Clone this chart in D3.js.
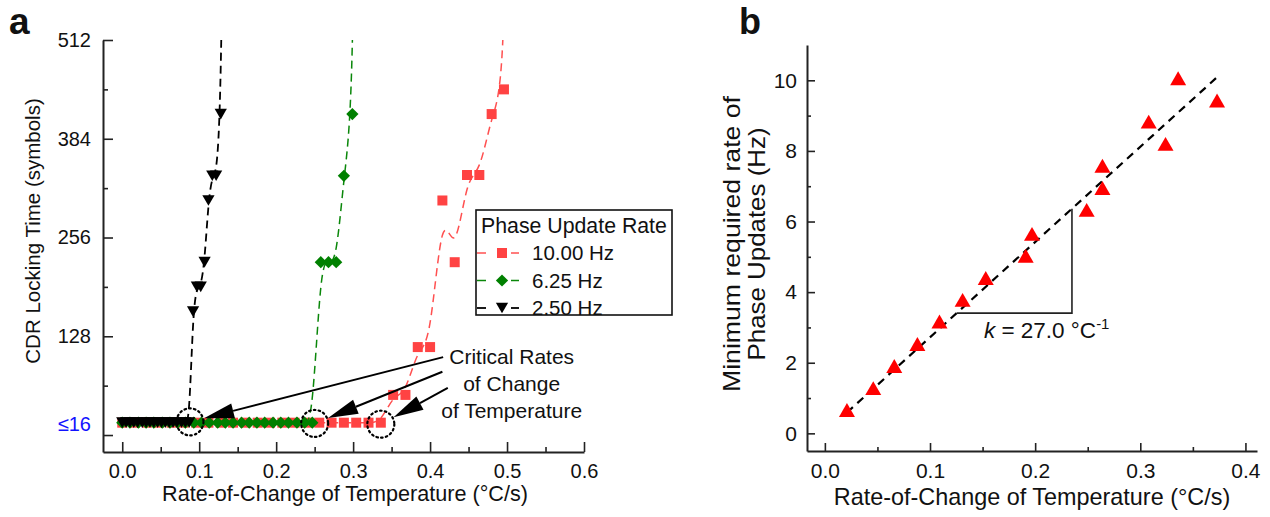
<!DOCTYPE html>
<html><head><meta charset="utf-8">
<script src="https://cdn.jsdelivr.net/npm/d3@7"></script>
<style>
body{margin:0;background:#fff;}
svg text{font-family:"Liberation Sans",Arial,Helvetica,sans-serif;}
</style></head><body>
<svg id="c" width="1270" height="517"></svg>
<script>
// ---------- Panel a data ----------
const xTicksA = [0, 0.1, 0.2, 0.3, 0.4, 0.5, 0.6];
const xTickLabelsA = ["0.0","0.1","0.2","0.3","0.4","0.5","0.6"];
const xMinorA = [0.05, 0.15, 0.25, 0.35, 0.45, 0.55];
const yTicksA = [0, 128, 256, 384, 512];
const yTickLabelsA = ["≤16","128","256","384","512"];
const yMinorA = [64, 192, 320, 448];
const seriesNames = ["10.00 Hz", "6.25 Hz", "2.50 Hz"];

const redX = [0.000,0.016,0.032,0.048,0.064,0.080,0.096,0.112,0.128,0.144,0.160,0.176,0.192,0.208,0.224,0.240,0.256,0.272,0.288,0.304,0.320,0.336,0.352,0.368,0.384,0.400,0.416,0.432,0.448,0.464,0.480,0.496];
const redY = [16,16,16,16,16,16,16,16,16,16,16,16,16,16,16,16,16,16,16,16,16,16,52,52,114,114,304,224,337,337,416,448];
const greenX = [0.000,0.010,0.021,0.031,0.041,0.052,0.062,0.072,0.082,0.093,0.103,0.113,0.124,0.134,0.144,0.155,0.165,0.175,0.185,0.196,0.206,0.216,0.227,0.237,0.247,0.258,0.268,0.278,0.288,0.299];
const greenY = [16,16,16,16,16,16,16,16,16,16,16,16,16,16,16,16,16,16,16,16,16,16,16,16,16,224,224,224,336,416];
const blackX = [0.000,0.005,0.010,0.015,0.020,0.026,0.031,0.036,0.041,0.046,0.051,0.056,0.061,0.066,0.071,0.077,0.082,0.087,0.092,0.097,0.102,0.107,0.112,0.117,0.122,0.128];
const blackY = [16,16,16,16,16,16,16,16,16,16,16,16,16,16,16,16,16,16,160,192,192,224,304,336,336,416];
// points beyond the top of the axis (lock failed), where each line leaves the plot
const redBeyond = [0.500, 800];
const greenBeyond = [0.303, 800];
const blackBeyond = [0.1325, 800];

const criticalX = [0.088, 0.250, 0.336];
const criticalY = [17, 15, 14];
const annotLines = ["Critical Rates", "of Change", "of Temperature"];
const annotX = 0.506;
const annotY = [102, 67, 32];
const arrowStart = [[0.417, 101], [0.416, 82], [0.423, 61]];

// ---------- Panel b data ----------
const xTicksB = [0, 0.1, 0.2, 0.3, 0.4];
const xTickLabelsB = ["0.0","0.1","0.2","0.3","0.4"];
const xMinorB = [0.05, 0.15, 0.25, 0.35];
const yTicksB = [0, 2, 4, 6, 8, 10];
const yMinorB = [1, 3, 5, 7, 9];
const bX = [0.021,0.046,0.066,0.088,0.109,0.131,0.153,0.191,0.197,0.249,0.264,0.264,0.308,0.324,0.336,0.373];
const bY = [0.66,1.28,1.91,2.53,3.17,3.78,4.40,5.03,5.65,6.33,6.95,7.58,8.83,8.20,10.06,9.43];
const fitX = [0.021, 0.372];
const fitY = [0.59, 10.06];
const slopeX = [0.1254, 0.235];
const slopeLabel = "27.0 °C";

// ---------- drawing ----------
const TXT = "#111";
const svg = d3.select("#c");
svg.append("rect").attr("width",1270).attr("height",517).attr("fill","#fff");

const xA = d3.scaleLinear([-0.025, 0.6], [103, 584]);
const yA = d3.scaleLinear([-22, 512], [452, 40]);
const xB = d3.scaleLinear([-0.017, 0.411], [807, 1257]);
const yB = d3.scaleLinear([-0.5, 11], [451, 45]);

const defs = svg.append("defs");
defs.append("clipPath").attr("id","clipA").append("rect")
  .attr("x",103).attr("y",40).attr("width",481).attr("height",412);

// symbols (centred on bounding box)
const sqSym = {draw(c,s){const h=Math.sqrt(s)/2;c.moveTo(-h,-h);c.lineTo(h,-h);c.lineTo(h,h);c.lineTo(-h,h);c.closePath();}};
const diaSym = {draw(c,s){const r=Math.sqrt(s)/2;c.moveTo(0,-r);c.lineTo(r,0);c.lineTo(0,r);c.lineTo(-r,0);c.closePath();}};
const triDown = {draw(c,s){const w=Math.sqrt(s),h=w*0.87;c.moveTo(-w/2,-h/2);c.lineTo(w/2,-h/2);c.lineTo(0,h/2);c.closePath();}};
const triUp = {draw(c,s){const w=Math.sqrt(s),h=w*0.87;c.moveTo(0,-h/2);c.lineTo(w/2,h/2);c.lineTo(-w/2,h/2);c.closePath();}};

function styleAxis(g, fs){
  g.attr("font-family",null).attr("font-size",fs);
  g.selectAll("line").attr("stroke","#222").attr("stroke-width",1.6);
  g.selectAll("path.domain").attr("stroke","#222").attr("stroke-width",2);
  g.selectAll("text").attr("fill",TXT);
}

// ---- Panel a axes ----
const gxA = svg.append("g").attr("transform","translate(0,452)")
  .call(d3.axisBottom(xA).tickValues(xTicksA).tickFormat((d,i)=>xTickLabelsA[i]).tickSize(-10).tickSizeOuter(0).tickPadding(12));
styleAxis(gxA, 20);
const gxAm = svg.append("g").attr("transform","translate(0,452)")
  .call(d3.axisBottom(xA).tickValues(xMinorA).tickFormat("").tickSize(-5).tickSizeOuter(0));
styleAxis(gxAm, 20); gxAm.select(".domain").remove();

const gyA = svg.append("g").attr("transform","translate(103,0)")
  .call(d3.axisLeft(yA).tickValues(yTicksA).tickFormat((d,i)=>yTickLabelsA[i]).tickSize(-10).tickSizeOuter(0).tickPadding(12));
styleAxis(gyA, 20);
// the "≤16" label sits level with the 16-symbol floor
gyA.selectAll("text").filter(d=>d===0).attr("fill","#1212ff").attr("y", yA(14)-yA(0));
const gyAm = svg.append("g").attr("transform","translate(103,0)")
  .call(d3.axisLeft(yA).tickValues(yMinorA).tickFormat("").tickSize(-5).tickSizeOuter(0));
styleAxis(gyAm, 20); gyAm.select(".domain").remove();

svg.append("text").attr("x",345).attr("y",501).attr("text-anchor","middle").attr("fill",TXT)
  .attr("font-size",21.6).text("Rate-of-Change of Temperature (°C/s)");
svg.append("text").attr("transform","translate(40,231) rotate(-90)").attr("text-anchor","middle").attr("fill",TXT)
  .attr("font-size",20.5).text("CDR Locking Time (symbols)");
svg.append("text").attr("x",9).attr("y",34).attr("font-size",37).attr("font-weight","bold").attr("fill",TXT).text("a");

// ---- Panel a series ----
const plotA = svg.append("g").attr("clip-path","url(#clipA)");
const lineA = d3.line().x(d=>xA(d[0])).y(d=>yA(d[1])).curve(d3.curveBasis);
const series = [
  {name:seriesNames[0], x:redX, y:redY, beyond:redBeyond, color:"#ff4343", line:"#ff5050", sym:sqSym, size:100, lw:1.5},
  {name:seriesNames[1], x:greenX, y:greenY, beyond:greenBeyond, color:"#008000", line:"#0a870a", sym:diaSym, size:150, lw:1.5},
  {name:seriesNames[2], x:blackX, y:blackY, beyond:blackBeyond, color:"#000", line:"#000", sym:triDown, size:150, lw:1.8}
];
series.forEach(s=>{
  const pts = s.x.map((v,i)=>[v, s.y[i]]);
  plotA.append("path").datum(pts.concat([s.beyond]))
    .attr("d",lineA).attr("fill","none").attr("stroke",s.line)
    .attr("stroke-width",s.lw).attr("stroke-dasharray","8,5");
  plotA.selectAll(null).data(pts).enter().append("path")
    .attr("transform",d=>`translate(${xA(d[0])},${yA(d[1])})`)
    .attr("d",d3.symbol().type(s.sym).size(s.size)).attr("fill",s.color);
});

// critical circles and arrows
const rC = 13.5;
criticalX.forEach((cx,i)=>{
  const px = xA(cx), py = yA(criticalY[i]);
  svg.append("circle").attr("cx",px).attr("cy",py).attr("r",rC)
    .attr("fill","none").attr("stroke","#000").attr("stroke-width",2.2)
    .attr("stroke-dasharray","1.6,3.2").attr("stroke-linecap","round");
  const sx = xA(arrowStart[i][0]), sy = yA(arrowStart[i][1]);
  const dx = sx-px, dy = sy-py, L = Math.hypot(dx,dy);
  const ux = dx/L, uy = dy/L;
  const tx = px+ux*(rC+1), ty = py+uy*(rC+1);
  const hl = 30, hw = 7.5;
  const bx = tx+ux*hl, by = ty+uy*hl;
  svg.append("line").attr("x1",sx).attr("y1",sy).attr("x2",bx).attr("y2",by)
    .attr("stroke","#000").attr("stroke-width",2);
  svg.append("path").attr("d",`M${tx},${ty}L${bx-uy*hw},${by+ux*hw}L${bx+uy*hw},${by-ux*hw}Z`).attr("fill","#000");
});
annotLines.forEach((t,i)=>{
  svg.append("text").attr("x",xA(annotX)).attr("y",yA(annotY[i])).attr("dy","0.35em").attr("fill",TXT)
    .attr("text-anchor","middle").attr("font-size",21).text(t);
});

// legend
const lg = svg.append("g");
lg.append("rect").attr("x",476).attr("y",210).attr("width",196).attr("height",105)
  .attr("fill","#fff").attr("stroke","#111").attr("stroke-width",1.6);
lg.append("text").attr("x",481).attr("y",226).attr("dy","0.35em").attr("font-size",21.3).attr("fill",TXT).text("Phase Update Rate");
series.forEach((s,i)=>{
  const cy = 253 + i*27.5;
  [[477,486],[511,519]].forEach(seg=>lg.append("line").attr("x1",seg[0]).attr("x2",seg[1]).attr("y1",cy).attr("y2",cy)
    .attr("stroke",s.line).attr("stroke-width",s.lw));
  lg.append("path").attr("transform",`translate(502,${cy})`).attr("d",d3.symbol().type(s.sym).size(s.size)).attr("fill",s.color);
  lg.append("text").attr("x",532).attr("y",cy).attr("dy","0.35em").attr("font-size",20.5).attr("fill",TXT).text(s.name);
});

// ---- Panel b ----
const gxB = svg.append("g").attr("transform","translate(0,451)")
  .call(d3.axisBottom(xB).tickValues(xTicksB).tickFormat((d,i)=>xTickLabelsB[i]).tickSize(-8).tickSizeOuter(0).tickPadding(12));
styleAxis(gxB, 21);
const gxBm = svg.append("g").attr("transform","translate(0,451)")
  .call(d3.axisBottom(xB).tickValues(xMinorB).tickFormat("").tickSize(-4).tickSizeOuter(0));
styleAxis(gxBm, 21); gxBm.select(".domain").remove();
const gyB = svg.append("g").attr("transform","translate(807,0)")
  .call(d3.axisLeft(yB).tickValues(yTicksB).tickFormat(d3.format("d")).tickSize(-8).tickSizeOuter(0).tickPadding(10));
styleAxis(gyB, 21);
const gyBm = svg.append("g").attr("transform","translate(807,0)")
  .call(d3.axisLeft(yB).tickValues(yMinorB).tickFormat("").tickSize(-4).tickSizeOuter(0));
styleAxis(gyBm, 21); gyBm.select(".domain").remove();

svg.append("text").attr("x",1032).attr("y",505).attr("text-anchor","middle").attr("fill",TXT)
  .attr("font-size",23.4).text("Rate-of-Change of Temperature (°C/s)");
const yl = svg.append("text").attr("transform","translate(744,244) rotate(-90)").attr("text-anchor","middle").attr("font-size",24).attr("fill",TXT);
yl.append("tspan").attr("x",0).attr("dy","-0.17em").attr("textLength",296).attr("lengthAdjust","spacingAndGlyphs").text("Minimum required rate of");
yl.append("tspan").attr("x",0).attr("dy","1.05em").attr("textLength",233).attr("lengthAdjust","spacingAndGlyphs").text("Phase Updates (Hz)");
svg.append("text").attr("x",739).attr("y",34).attr("font-size",36).attr("font-weight","bold").attr("fill",TXT).text("b");

// fit line
const fitInterp = d3.scaleLinear(fitX, fitY);
svg.append("line").attr("x1",xB(fitX[0])).attr("y1",yB(fitY[0])).attr("x2",xB(fitX[1])).attr("y2",yB(fitY[1]))
  .attr("stroke","#000").attr("stroke-width",2.2).attr("stroke-dasharray","8,6");
// slope triangle
const s0 = fitInterp(slopeX[0]);
svg.append("path")
  .attr("d",`M${xB(slopeX[0])},${yB(s0)}H${xB(slopeX[1])}V${yB(fitInterp(slopeX[1]))}`)
  .attr("fill","none").attr("stroke","#222").attr("stroke-width",1.6);
const kt = svg.append("text").attr("x",xB(0.1513)).attr("y",yB(2.7)).attr("font-size",22.5).attr("fill",TXT);
kt.append("tspan").attr("font-style","italic").text("k");
kt.append("tspan").text(" = " + slopeLabel);
kt.append("tspan").attr("font-size",15).attr("dy","-0.6em").text("-1");

svg.append("g").selectAll("path").data(bX.map((v,i)=>[v,bY[i]])).enter().append("path")
  .attr("transform",d=>`translate(${xB(d[0])},${yB(d[1])})`)
  .attr("d",d3.symbol().type(triUp).size(256)).attr("fill","#ff0000");
</script>
</body></html>
